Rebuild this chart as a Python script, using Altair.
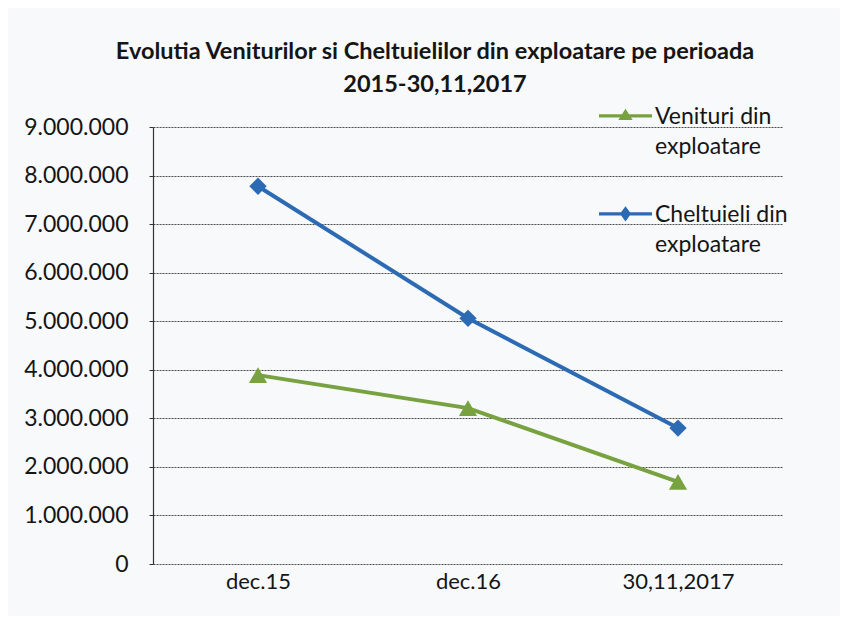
import altair as alt
import pandas as pd

# ---- data ----
categories = ["dec.15", "dec.16", "30,11,2017"]
venituri = [3890000, 3210000, 1690000]
cheltuieli = [7780000, 5060000, 2800000]
series_names = ["Venituri din exploatare", "Cheltuieli din exploatare"]
series_colors = ["#77A23F", "#2C6BB4"]
y_ticks = [0, 1000000, 2000000, 3000000, 4000000, 5000000, 6000000, 7000000, 8000000, 9000000]
title_lines = ["Evolutia Veniturilor si Cheltuielilor din exploatare pe perioada", "2015-30,11,2017"]

rows = []
for name, vals in zip(series_names, [venituri, cheltuieli]):
    for cat, v in zip(categories, vals):
        rows.append({"perioada": cat, "serie": name, "valoare": v})
df = pd.DataFrame(rows)

FONT = "Lato"
TXT = "#151515"

# legend symbols: line segment with marker (custom paths in unit square)
legend_paths = [
    "M-1,0.33H1V0.45H-1Z M0,0.12L0.27,0.55L-0.27,0.55Z",
    "M-1,0.33H1V0.45H-1Z M0,0.1L0.21,0.39L0,0.68L-0.21,0.39Z",
]

x_enc = alt.X(
    "perioada:N",
    sort=categories,
    scale=alt.Scale(type="point", padding=0.5),
    axis=alt.Axis(title=None, domain=False, ticks=False, grid=False, labelAngle=0,
                  labelPadding=7, labelFont=FONT, labelFontSize=22, labelColor=TXT),
)
y_enc = alt.Y(
    "valoare:Q",
    scale=alt.Scale(domain=[0, 9000000], nice=False, zero=True),
    axis=alt.Axis(title=None, values=y_ticks,
                  labelExpr="replace(format(datum.value, ','), regexp(',', 'g'), '.')",
                  grid=True, gridColor="#4a4a4a", gridDash=[2, 1], gridWidth=1,
                  domainColor="#333333", domainWidth=1.2, tickColor="#333333", tickSize=4,
                  labelPadding=21, labelFont=FONT, labelFontSize=23, labelColor=TXT),
)
color_plain = alt.Color("serie:N", scale=alt.Scale(domain=series_names, range=series_colors), legend=None)

base = alt.Chart(df).encode(x=x_enc, y=y_enc)

lines = base.mark_line(strokeWidth=4).encode(color=color_plain, detail="serie:N")

tri = base.transform_filter(alt.datum.serie == series_names[0]).mark_point(
    shape="triangle-up", filled=True, size=330, opacity=1).encode(color=color_plain)
dia = base.transform_filter(alt.datum.serie == series_names[1]).mark_point(
    shape="diamond", filled=True, size=300, opacity=1).encode(color=color_plain)

leg_kwargs = dict(
    orient="none", legendX=446, legendY=-48, title=None, direction="vertical",
    symbolSize=2809, symbolOpacity=1, symbolStrokeWidth=0,
    labelFont=FONT, labelFontSize=23, labelColor=TXT, labelBaseline="top",
    labelExpr="[slice(datum.label, 0, lastindexof(datum.label, ' ')), slice(datum.label, lastindexof(datum.label, ' ') + 1)]",
    labelLimit=300, labelOffset=3, rowPadding=18, padding=0,
)
legend_layer = base.mark_point(filled=True, opacity=0).encode(
    color=alt.Color("serie:N", scale=alt.Scale(domain=series_names, range=series_colors),
                    legend=alt.Legend(**leg_kwargs)),
    shape=alt.Shape("serie:N", scale=alt.Scale(domain=series_names, range=legend_paths),
                    legend=alt.Legend(**leg_kwargs)),
)

chart = alt.layer(legend_layer, lines, tri, dia).properties(
    width=630, height=437,
    title=alt.TitleParams(text=title_lines, font=FONT, fontSize=23.5, fontWeight="bold",
                          color=TXT, lineHeight=33, anchor="middle", dx=-33, offset=-17),
    autosize=alt.AutoSizeParams(type="none"),
    padding={"left": 145, "top": 119, "right": 57, "bottom": 52},
    background="#f8f9fb",
).configure(style={"guide-label": {"lineHeight": 30}}).configure_view(strokeOpacity=0)

chart.save("out.html", embed_options={"renderer": "svg", "actions": False})
